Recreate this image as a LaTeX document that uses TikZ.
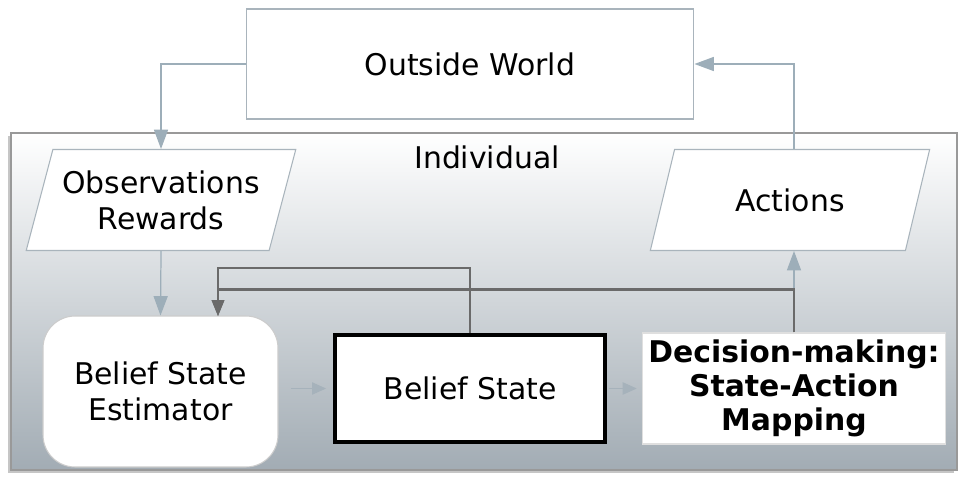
\documentclass[tikz,border=0pt]{standalone}
\usepackage{fontspec}
\setmainfont{DejaVu Sans}
\usepackage{xcolor}
\usepackage{tikz}
\usetikzlibrary{shapes.geometric,arrows.meta,positioning,shadows}
\definecolor{wire}{HTML}{9DAEB9}
\definecolor{wirelight}{HTML}{A6B2BB}
\definecolor{loopgray}{HTML}{6A6A6A}
\definecolor{frame}{HTML}{A9B4BC}
\definecolor{indivbot}{HTML}{A2ACB4}

\begin{document}
\begin{tikzpicture}[x=0.02cm, y=-0.02cm,
  box/.style={rectangle, draw=frame, fill=white, line width=0.6pt, align=center, font=\fontsize{17}{20.5}\selectfont},
  io/.style={trapezium, trapezium left angle=70, trapezium right angle=110, trapezium stretches=true, draw=frame, fill=white, line width=0.6pt, align=center, font=\fontsize{17}{20.5}\selectfont},
  flow/.style={-{Triangle[length=11pt, width=8pt]}, wire, line width=0.7pt},
  soft/.style={-{Triangle[length=8pt, width=7pt]}, wirelight, line width=0.7pt},
  back/.style={-{Triangle[length=9pt, width=7pt]}, loopgray, line width=1.2pt}
]
\useasboundingbox (0,0) rectangle (958,477);
\node[rectangle, draw=gray!80, line width=0.7pt, top color=white, bottom color=indivbot, minimum width=18.92cm, minimum height=6.74cm, drop shadow={shadow xshift=-1.5pt, shadow yshift=-1.5pt, opacity=0.45}] (indiv) at (484,301.5) {};
\node[font=\fontsize{17}{20.5}\selectfont] (indivlbl) at (487,157) {Individual};

\node[box, minimum width=8.96cm, minimum height=2.2cm] (world) at (470,64) {Outside World};
\node[io, minimum width=5.4cm, minimum height=2.02cm] (obs) at (161,200) {Observations\\Rewards};
\node[io, minimum width=5.6cm, minimum height=2.02cm] (act) at (790,200) {Actions};
\node[box, rounded corners=0.64cm, draw=gray!40, minimum width=4.7cm, minimum height=3.02cm] (est) at (160.5,391.5) {Belief State\\Estimator};
\node[box, draw=black, line width=2.2pt, minimum width=5.4cm, minimum height=2.14cm] (belief) at (470,388.5) {Belief State};
\node[box, draw=gray!25, minimum width=5.96cm, minimum height=2.22cm, font=\fontsize{17}{19.3}\selectfont\bfseries] (dec) at (794,388.5) {Decision-making:\\State-Action\\Mapping};
\coordinate (fbin) at (218,316);

\draw[flow] (world.west) -| (obs.north);
\draw[flow] (obs.south) -- (est.north);
\draw[flow] (dec.north) -- (dec.north |- act.south);
\draw[flow] (dec.north |- act.north) |- (world.east);
\draw[soft, shorten <=7pt, shorten >=4pt] (est.east |- belief.west) -- (belief.west);
\draw[soft, shorten <=1pt, shorten >=3pt] (belief.east) -- (dec.west);
\draw[back] (belief.north) -- ++(0,-65) -| (fbin);
\draw[back] (dec.north) -- ++(0,-43) -| (fbin);
\end{tikzpicture}
\end{document}
